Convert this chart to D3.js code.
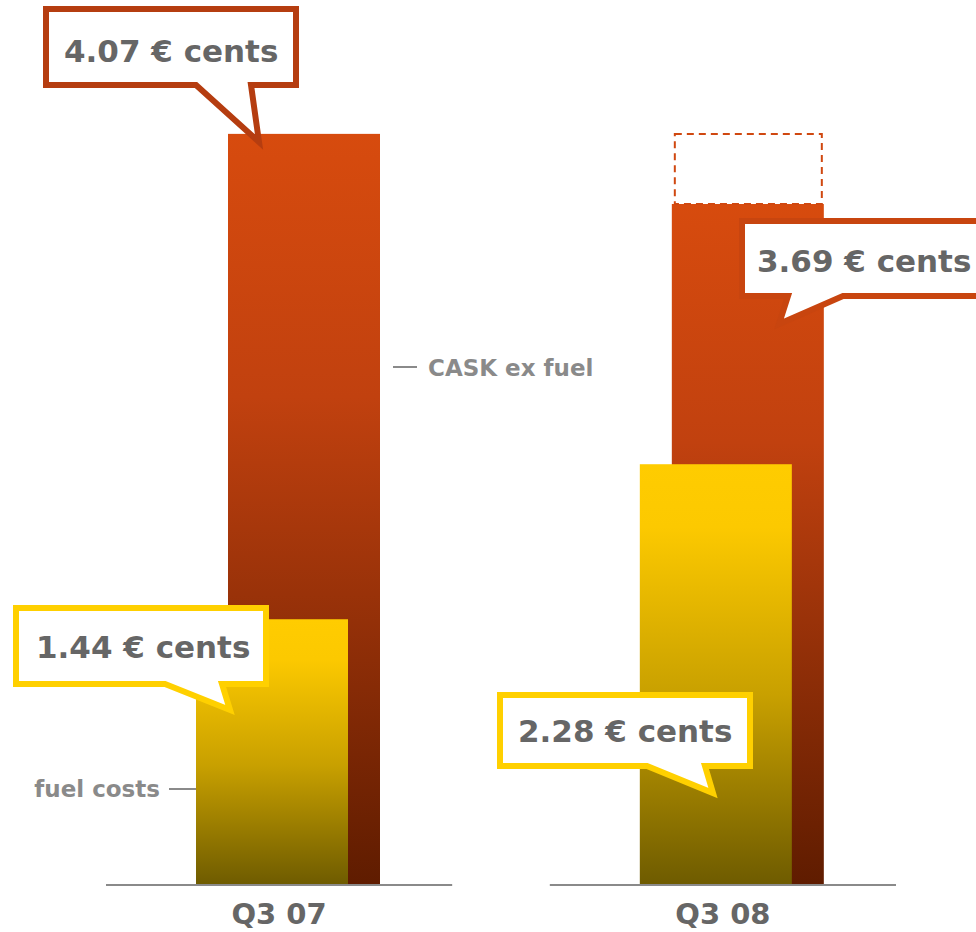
<!DOCTYPE html>
<html>
<head>
<meta charset="utf-8">
<script src="https://cdn.jsdelivr.net/npm/d3@7"></script>
<style>
  body { margin: 0; background: #fff; }
  svg { display: block; }
</style>
</head>
<body>
<svg id="chart" width="976" height="932"></svg>
<script>
// Cost per available seat-km, split into fuel and non-fuel parts
const quarters = ["Q3 07", "Q3 08"];
const caskExFuel = [4.07, 3.69];
const fuelCosts = [1.44, 2.28];
const seriesNames = ["CASK ex fuel", "fuel costs"];
const unitLabel = "€ cents";

const svg = d3.select("#chart");
const baseY = 885;
const font = "'DejaVu Sans', Verdana, sans-serif";

const x = d3.scaleBand().domain(quarters).range([106, 896]).paddingInner(0.22);
const y = d3.scaleLinear().domain([0, 4.79]).range([baseY, 1]);

const barW = 152, caskOff = 122, fuelOff = 90;

// gradients
const defs = svg.append("defs");
const gCask = defs.append("linearGradient").attr("id", "gCask")
  .attr("x1", 0).attr("y1", 0).attr("x2", 0).attr("y2", 1);
gCask.append("stop").attr("offset", 0).attr("stop-color", "#d74b0e");
gCask.append("stop").attr("offset", 0.35).attr("stop-color", "#c1410f");
gCask.append("stop").attr("offset", 1).attr("stop-color", "#5f1c00");
const gFuel = defs.append("linearGradient").attr("id", "gFuel")
  .attr("x1", 0).attr("y1", 0).attr("x2", 0).attr("y2", 1);
gFuel.append("stop").attr("offset", 0).attr("stop-color", "#ffcc00");
gFuel.append("stop").attr("offset", 0.15).attr("stop-color", "#fcc900");
gFuel.append("stop").attr("offset", 0.55).attr("stop-color", "#c8a000");
gFuel.append("stop").attr("offset", 1).attr("stop-color", "#6e5b00");

// CASK ex fuel bars (behind)
svg.append("g").selectAll("rect").data(quarters).join("rect")
  .attr("x", q => x(q) + caskOff)
  .attr("y", (q, i) => y(caskExFuel[i]))
  .attr("width", barW)
  .attr("height", (q, i) => baseY - y(caskExFuel[i]))
  .attr("fill", "url(#gCask)");

// previous-year level outlined above the Q3 08 bar
svg.append("rect")
  .attr("x", x(quarters[1]) + caskOff + 3)
  .attr("y", y(caskExFuel[0]))
  .attr("width", barW - 5)
  .attr("height", y(caskExFuel[1]) - y(caskExFuel[0]))
  .attr("fill", "none")
  .attr("stroke", "#d04810")
  .attr("stroke-width", 2)
  .attr("stroke-dasharray", "7,5");

// fuel cost bars (front)
svg.append("g").selectAll("rect").data(quarters).join("rect")
  .attr("x", q => x(q) + fuelOff)
  .attr("y", (q, i) => y(fuelCosts[i]))
  .attr("width", barW)
  .attr("height", (q, i) => baseY - y(fuelCosts[i]))
  .attr("fill", "url(#gFuel)");

// baselines per quarter
svg.append("g").selectAll("line").data(quarters).join("line")
  .attr("x1", q => x(q)).attr("x2", q => x(q) + x.bandwidth())
  .attr("y1", baseY).attr("y2", baseY)
  .attr("stroke", "#8a8a8a").attr("stroke-width", 2);

// quarter labels
svg.append("g").selectAll("text").data(quarters).join("text")
  .attr("x", q => x(q) + x.bandwidth() / 2)
  .attr("y", 924)
  .attr("text-anchor", "middle")
  .attr("font-family", font).attr("font-weight", "bold")
  .attr("font-size", 29).attr("fill", "#666")
  .text(d => d);

// series labels with leader lines
const q0 = quarters[0];
const caskRight = x(q0) + caskOff + barW;
svg.append("line").attr("x1", caskRight + 13).attr("x2", caskRight + 37)
  .attr("y1", 367).attr("y2", 367).attr("stroke", "#8a8a8a").attr("stroke-width", 2);
svg.append("text").attr("x", caskRight + 48).attr("y", 376)
  .attr("font-family", font).attr("font-weight", "bold")
  .attr("font-size", 23).attr("fill", "#8a8a8a").text(seriesNames[0]);
const fuelLeft = x(q0) + fuelOff;
svg.append("line").attr("x1", fuelLeft - 27).attr("x2", fuelLeft)
  .attr("y1", 789).attr("y2", 789).attr("stroke", "#8a8a8a").attr("stroke-width", 2);
svg.append("text").attr("x", fuelLeft - 36).attr("y", 797)
  .attr("text-anchor", "end")
  .attr("font-family", font).attr("font-weight", "bold")
  .attr("font-size", 23).attr("fill", "#8a8a8a").text(seriesNames[1]);

// value callouts: speech-bubble boxes
const fmt = d3.format(".2f");
const callouts = [
  { v: caskExFuel[0], box: [46, 9, 296, 85], tail: [196, 251, 259, null], tx: 64, ty: 62, c: "#b53d10" },
  { v: caskExFuel[1], box: [742, 221, 1000, 296], tail: [843, 788, 779, 324], tx: 757, ty: 272, c: "#c8450f" },
  { v: fuelCosts[0], box: [16, 608, 266, 684], tail: [165, 222, 230, 710], tx: 36, ty: 658, c: "#ffd000" },
  { v: fuelCosts[1], box: [500, 695, 750, 766], tail: [647, 705, 713, 793], tx: 518, ty: 742, c: "#ffd000" }
];
// the top callout's pointer reaches into its bar
callouts[0].tail[3] = y(caskExFuel[0]) + 8;

const cg = svg.append("g").selectAll("g").data(callouts).join("g");
cg.append("path")
  .attr("d", d => {
    const [x0, y0, x1, y1] = d.box;
    const [bA, bB, tx, ty] = d.tail;
    const p = d3.path();
    p.moveTo(x0, y0); p.lineTo(x1, y0); p.lineTo(x1, y1);
    p.lineTo(Math.max(bA, bB), y1);
    p.lineTo(tx, ty);
    p.lineTo(Math.min(bA, bB), y1);
    p.lineTo(x0, y1); p.closePath();
    return p.toString();
  })
  .attr("fill", "#fff")
  .attr("stroke", d => d.c)
  .attr("stroke-width", 6)
  .attr("stroke-linejoin", "miter");
cg.append("text")
  .attr("x", d => d.tx).attr("y", d => d.ty)
  .attr("font-family", font).attr("font-weight", "bold")
  .attr("font-size", 31).attr("fill", "#666")
  .text(d => `${fmt(d.v)} ${unitLabel}`);
</script>
</body>
</html>
